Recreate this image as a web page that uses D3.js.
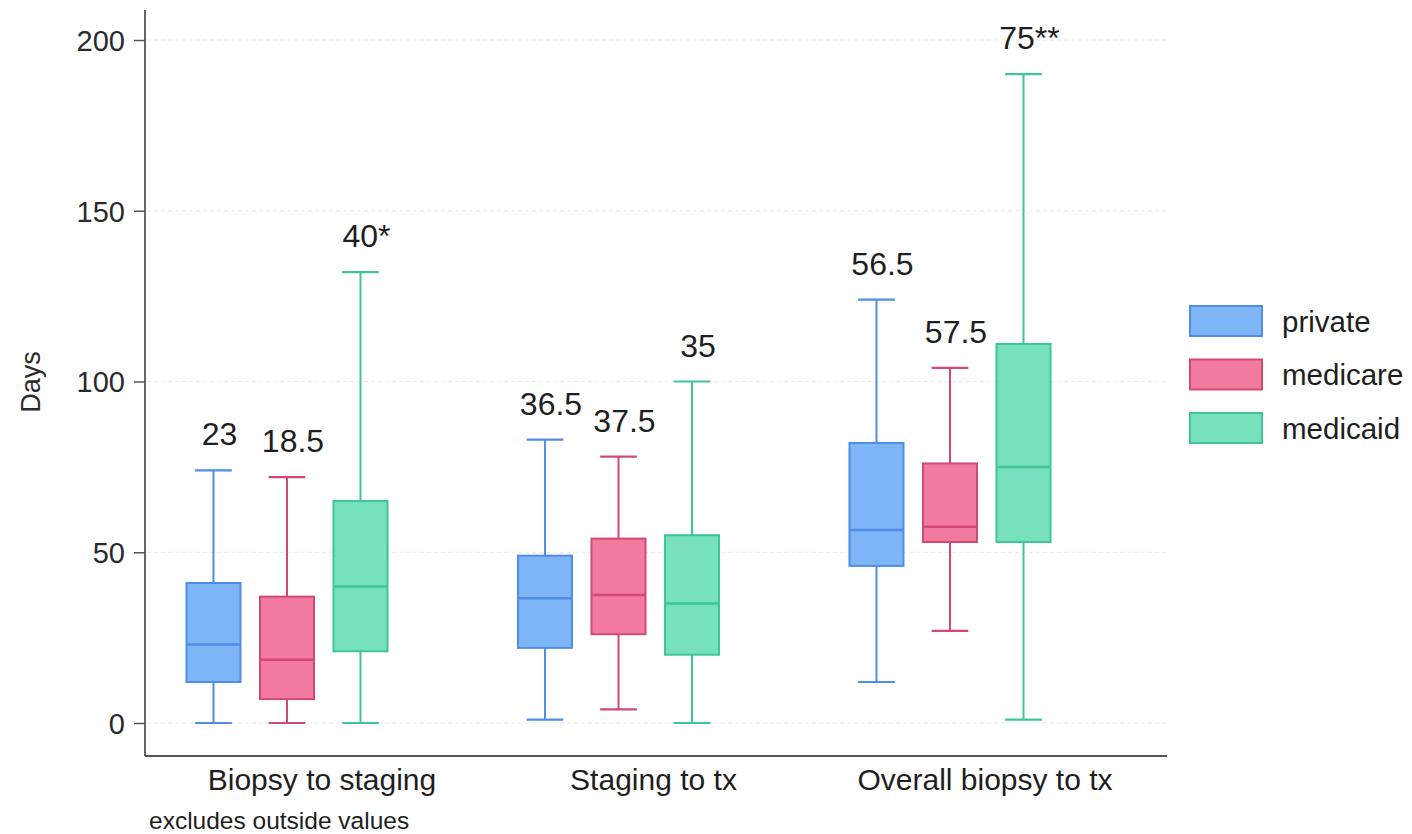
<!DOCTYPE html>
<html>
<head>
<meta charset="utf-8">
<script src="https://cdn.jsdelivr.net/npm/d3@7"></script>
<style>
  body { margin: 0; background: #fff; }
  svg { display: block; font-family: "Liberation Sans", Arial, Helvetica, sans-serif; }
</style>
</head>
<body>
<svg id="chart" width="1412" height="834"></svg>
<script>
// categories on the x axis and the three insurance groups
const categories = ["Biopsy to staging", "Staging to tx", "Overall biopsy to tx"];
const groups = ["private", "medicare", "medicaid"];

// box stats per category: [lower whisker, q1, median, q3, upper whisker]
const privateStats  = [[0, 12, 23, 41, 74], [1, 22, 36.5, 49, 83], [12, 46, 56.5, 82, 124]];
const medicareStats = [[0, 7, 18.5, 37, 72], [4, 26, 37.5, 54, 78], [27, 53, 57.5, 76, 104]];
const medicaidStats = [[0, 21, 40, 65, 132], [0, 20, 35, 55, 100], [1, 53, 75, 111, 190]];

// text printed over each box (median, with significance stars)
const medianLabels = [["23", "18.5", "40*"], ["36.5", "37.5", "35"], ["56.5", "57.5", "75**"]];

const yTicks = [0, 50, 100, 150, 200];

const fills   = { private: "#7db5f6", medicare: "#f27a9f", medicaid: "#76e1bc" };
const strokes = { private: "#4f8de6", medicare: "#d24a74", medicaid: "#3ec793" };

const statsBySeries = { private: privateStats, medicare: medicareStats, medicaid: medicaidStats };

const svg = d3.select("#chart");
const axisX = 145, axisTop = 10, axisBottom = 756, plotRight = 1167;

const yScale = d3.scaleLinear().domain([0, 200]).range([723, 40]);

const xScale = d3.scalePoint()
    .domain(categories)
    .range([287, 950]);

const inner = d3.scaleBand()
    .domain(groups)
    .range([-110.25, 110.25])
    .paddingInner(0.265)
    .paddingOuter(0.1325);

const boxW = inner.bandwidth();
const capW = boxW * 0.68;

// faint grid lines
svg.append("g")
    .selectAll("line")
    .data(yTicks)
    .enter()
    .append("line")
    .attr("x1", axisX + 2)
    .attr("x2", plotRight)
    .attr("y1", d => yScale(d))
    .attr("y2", d => yScale(d))
    .attr("stroke", "#e9e9e9")
    .attr("stroke-width", 1.2)
    .attr("stroke-dasharray", "4 3");

// y axis
const yAxis = d3.axisLeft(yScale)
    .tickValues(yTicks)
    .tickSize(11)
    .tickSizeOuter(0)
    .tickPadding(9);

const gy = svg.append("g")
    .attr("transform", `translate(${axisX},0)`)
    .call(yAxis);
gy.select(".domain").remove();
gy.selectAll(".tick line").attr("stroke", "#555").attr("stroke-width", 1.5);
gy.selectAll(".tick text")
    .attr("fill", "#2a2a2a")
    .style("font-size", "29px")
    .attr("dy", "0.36em");

svg.append("line")
    .attr("x1", axisX).attr("x2", axisX)
    .attr("y1", axisTop).attr("y2", axisBottom)
    .attr("stroke", "#555").attr("stroke-width", 1.8);

svg.append("line")
    .attr("x1", axisX).attr("x2", plotRight)
    .attr("y1", axisBottom).attr("y2", axisBottom)
    .attr("stroke", "#555").attr("stroke-width", 1.8);

// y title
svg.append("text")
    .attr("transform", `translate(40,382) rotate(-90)`)
    .attr("text-anchor", "middle")
    .attr("fill", "#2a2a2a")
    .style("font-size", "27px")
    .text("Days");

// boxes
const boxes = [];
categories.forEach((cat, ci) => {
    groups.forEach((g, gi) => {
        const s = statsBySeries[g][ci];
        boxes.push({ cat, g, lo: s[0], q1: s[1], med: s[2], q3: s[3], hi: s[4], label: medianLabels[ci][gi] });
    });
});

const cx = d => xScale(d.cat) + inner(d.g) + boxW / 2;

const bg = svg.append("g")
    .selectAll("g.box")
    .data(boxes)
    .enter()
    .append("g")
    .attr("class", "box");

// whiskers
bg.append("line")
    .attr("x1", cx).attr("x2", cx)
    .attr("y1", d => yScale(d.hi)).attr("y2", d => yScale(d.q3))
    .attr("stroke", d => strokes[d.g]).attr("stroke-width", 2);
bg.append("line")
    .attr("x1", cx).attr("x2", cx)
    .attr("y1", d => yScale(d.q1)).attr("y2", d => yScale(d.lo))
    .attr("stroke", d => strokes[d.g]).attr("stroke-width", 2);

// caps
["hi", "lo"].forEach(k => {
    bg.append("line")
        .attr("x1", d => cx(d) - capW / 2).attr("x2", d => cx(d) + capW / 2)
        .attr("y1", d => yScale(d[k])).attr("y2", d => yScale(d[k]))
        .attr("stroke", d => strokes[d.g]).attr("stroke-width", 2.2);
});

bg.append("rect")
    .attr("x", d => cx(d) - boxW / 2)
    .attr("width", boxW)
    .attr("y", d => yScale(d.q3))
    .attr("height", d => yScale(d.q1) - yScale(d.q3))
    .attr("fill", d => fills[d.g])
    .attr("stroke", d => strokes[d.g])
    .attr("stroke-width", 2);

bg.append("line")
    .attr("x1", d => cx(d) - boxW / 2).attr("x2", d => cx(d) + boxW / 2)
    .attr("y1", d => yScale(d.med)).attr("y2", d => yScale(d.med))
    .attr("stroke", d => strokes[d.g]).attr("stroke-width", 2.5);

// median labels above the upper whisker
bg.append("text")
    .attr("x", d => cx(d) + 6)
    .attr("y", d => yScale(d.hi) - 25)
    .attr("text-anchor", "middle")
    .attr("fill", "#1e1e1e")
    .style("font-size", "32px")
    .text(d => d.label);

// category labels
svg.append("g")
    .selectAll("text")
    .data(categories)
    .enter()
    .append("text")
    .attr("x", d => xScale(d) + 35)
    .attr("y", 790)
    .attr("text-anchor", "middle")
    .attr("fill", "#1e1e1e")
    .style("font-size", "30px")
    .text(d => d);

svg.append("text")
    .attr("x", 149)
    .attr("y", 829)
    .attr("fill", "#1e1e1e")
    .style("font-size", "24.5px")
    .text("excludes outside values");

// legend
const legend = svg.append("g")
    .selectAll("g")
    .data(groups)
    .enter()
    .append("g")
    .attr("transform", (d, i) => `translate(1190,${306 + i * 53.5})`);

legend.append("rect")
    .attr("width", 72).attr("height", 30)
    .attr("fill", d => fills[d])
    .attr("stroke", d => strokes[d])
    .attr("stroke-width", 2);

legend.append("text")
    .attr("x", 92)
    .attr("y", 15)
    .attr("dy", "0.36em")
    .attr("fill", "#1e1e1e")
    .style("font-size", "29.5px")
    .text(d => d);
</script>
</body>
</html>
